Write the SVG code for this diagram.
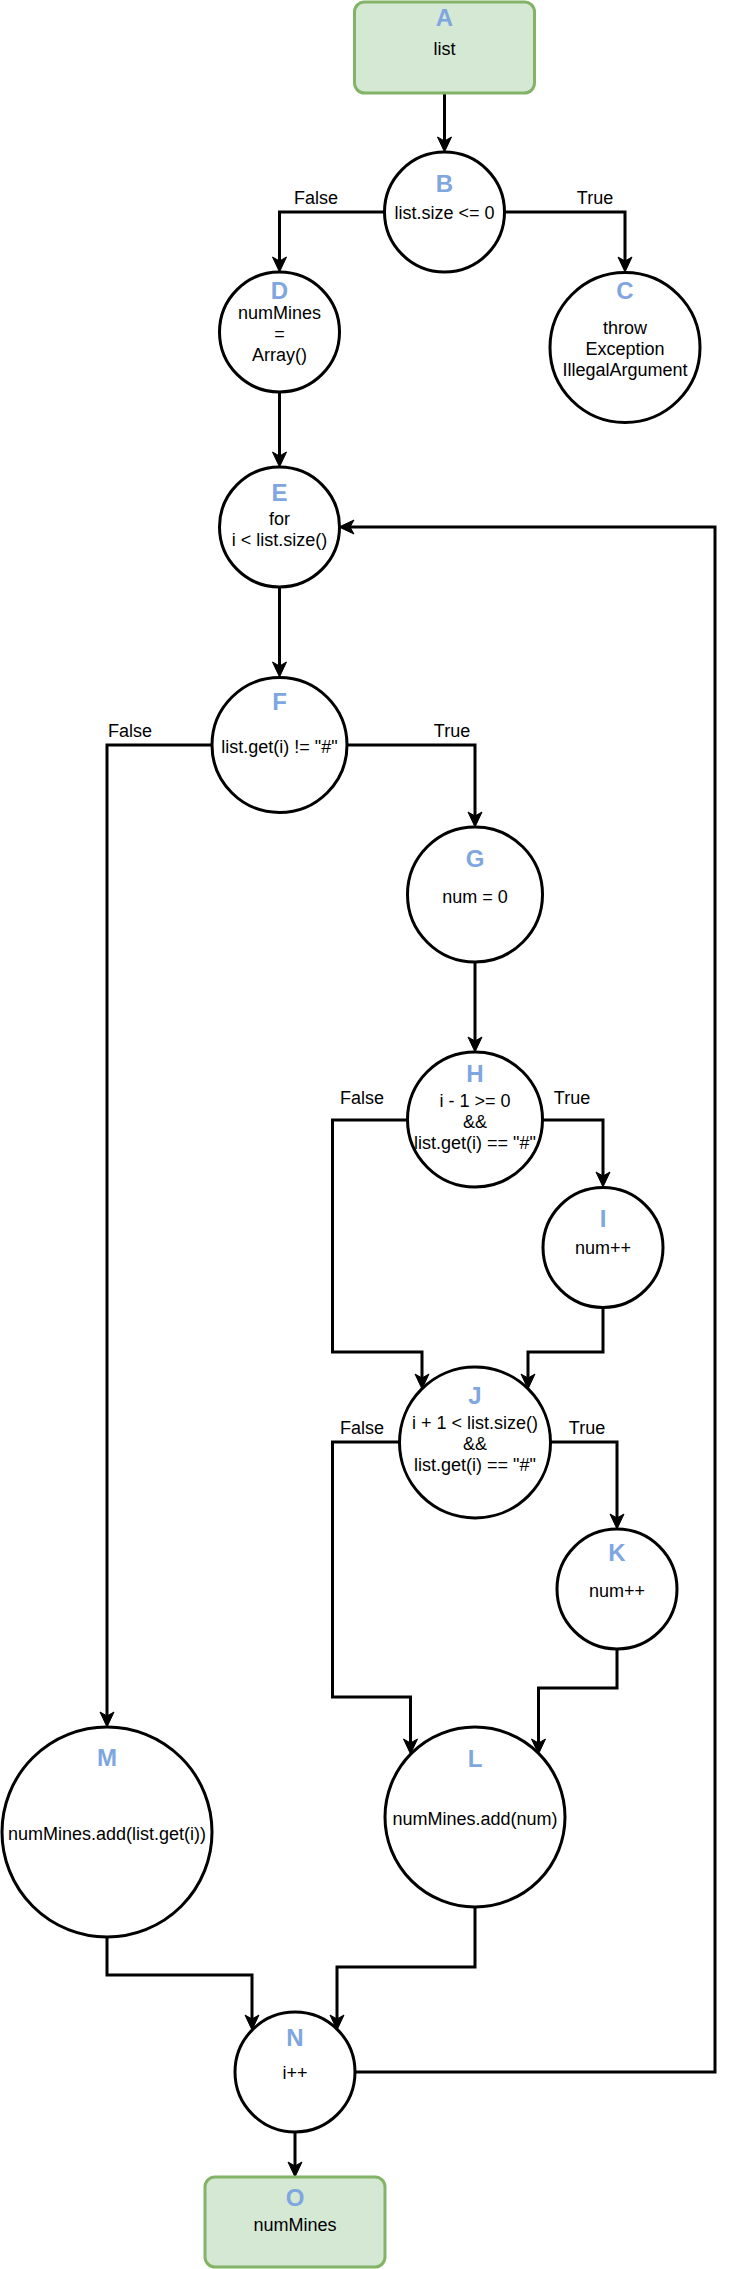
<svg xmlns="http://www.w3.org/2000/svg" width="729" height="2269" viewBox="0 0 729 2269">
<defs>
<style>
.term{fill:#d5e8d4;stroke:#82b366;stroke-width:3}
.node{fill:#ffffff;stroke:#000000;stroke-width:3}
.edge{fill:none;stroke:#000000;stroke-width:3}
.t{font-family:"Liberation Sans",Arial,sans-serif;font-size:18px;fill:#000000;text-anchor:middle}
.id{font-family:"Liberation Sans",Arial,sans-serif;font-size:24px;font-weight:bold;fill:#7ea6e0;text-anchor:middle}
</style>
<marker id="arr" markerUnits="userSpaceOnUse" markerWidth="20" markerHeight="20" refX="0" refY="0" orient="auto" style="overflow:visible">
<path d="M10,0 L-5,-7 L-1,0 L-5,7 Z" fill="#000000" stroke="#000000" stroke-width="1"/>
</marker>
</defs>
<rect width="729" height="2269" fill="#ffffff"/>
<g id="connectors">
<path class="edge" marker-end="url(#arr)" d="M444.5,93 V142"/>
<path class="edge" marker-end="url(#arr)" d="M384.5,212 H279.5 V262"/>
<path class="edge" marker-end="url(#arr)" d="M504.5,212 H625 V262"/>
<path class="edge" marker-end="url(#arr)" d="M279.5,392 V457"/>
<path class="edge" marker-end="url(#arr)" d="M279.5,587 V667"/>
<path class="edge" marker-end="url(#arr)" d="M347,745 H475 V817"/>
<path class="edge" marker-end="url(#arr)" d="M212,745 H107 V1717"/>
<path class="edge" marker-end="url(#arr)" d="M475,962 V1042"/>
<path class="edge" marker-end="url(#arr)" d="M543,1120 H603 V1177"/>
<path class="edge" marker-end="url(#arr)" d="M407,1120 H332.5 V1352 H422 V1379"/>
<path class="edge" marker-end="url(#arr)" d="M603,1308 V1352 H528 V1379"/>
<path class="edge" marker-end="url(#arr)" d="M550,1442 H617 V1519"/>
<path class="edge" marker-end="url(#arr)" d="M400,1442 H332.5 V1697 H410.5 V1744"/>
<path class="edge" marker-end="url(#arr)" d="M617,1649 V1688 H538.5 V1744"/>
<path class="edge" marker-end="url(#arr)" d="M107,1937 V1975 H252 V2020"/>
<path class="edge" marker-end="url(#arr)" d="M475,1907 V1967 H337 V2020"/>
<path class="edge" marker-end="url(#arr)" d="M355,2072 H715 V527 H349"/>
<path class="edge" marker-end="url(#arr)" d="M295,2132 V2167"/>
<text class="t" x="316" y="204">False</text>
<text class="t" x="595" y="204">True</text>
<text class="t" x="130" y="737">False</text>
<text class="t" x="452" y="737">True</text>
<text class="t" x="362" y="1104">False</text>
<text class="t" x="572" y="1104">True</text>
<text class="t" x="362" y="1434">False</text>
<text class="t" x="587" y="1434">True</text>
</g>
<g id="A">
<rect class="term" x="354.5" y="2" width="180" height="91" rx="10" ry="10"/>
<text class="id" x="444.5" y="26">A</text>
<text class="t" x="444.5" y="55">list</text>
</g>
<g id="B">
<circle class="node" cx="444.5" cy="212" r="60"/>
<text class="id" x="444.5" y="192">B</text>
<text class="t" x="444.5" y="219">list.size &lt;= 0</text>
</g>
<g id="C">
<circle class="node" cx="625" cy="347.5" r="75"/>
<text class="id" x="625" y="299">C</text>
<text class="t" x="625" y="333.5">throw</text>
<text class="t" x="625" y="354.5">Exception</text>
<text class="t" x="625" y="375.5">IllegalArgument</text>
</g>
<g id="D">
<circle class="node" cx="279.5" cy="332" r="60"/>
<text class="id" x="279.5" y="299">D</text>
<text class="t" x="279.5" y="318.5">numMines</text>
<text class="t" x="279.5" y="339.5">=</text>
<text class="t" x="279.5" y="360.5">Array()</text>
</g>
<g id="E">
<circle class="node" cx="279.5" cy="527" r="60"/>
<text class="id" x="279.5" y="501">E</text>
<text class="t" x="279.5" y="524.5">for</text>
<text class="t" x="279.5" y="545.5">i &lt; list.size()</text>
</g>
<g id="F">
<circle class="node" cx="279.5" cy="745" r="67.5"/>
<text class="id" x="279.5" y="710">F</text>
<text class="t" x="279.5" y="752.5">list.get(i) != "#"</text>
</g>
<g id="G">
<circle class="node" cx="475" cy="894.5" r="67.5"/>
<text class="id" x="475" y="867">G</text>
<text class="t" x="475" y="902.5">num = 0</text>
</g>
<g id="H">
<circle class="node" cx="475" cy="1119.5" r="67.5"/>
<text class="id" x="475" y="1082">H</text>
<text class="t" x="475" y="1106.5">i - 1 &gt;= 0</text>
<text class="t" x="475" y="1127.5">&amp;&amp;</text>
<text class="t" x="475" y="1148.5">list.get(i) == "#"</text>
</g>
<g id="I">
<circle class="node" cx="603" cy="1247.5" r="60"/>
<text class="id" x="603" y="1227">I</text>
<text class="t" x="603" y="1254">num++</text>
</g>
<g id="J">
<circle class="node" cx="475" cy="1442.5" r="75.5"/>
<text class="id" x="475" y="1404">J</text>
<text class="t" x="475" y="1428.5">i + 1 &lt; list.size()</text>
<text class="t" x="475" y="1449.5">&amp;&amp;</text>
<text class="t" x="475" y="1470.5">list.get(i) == "#"</text>
</g>
<g id="K">
<circle class="node" cx="617" cy="1589" r="60"/>
<text class="id" x="617" y="1561">K</text>
<text class="t" x="617" y="1597">num++</text>
</g>
<g id="L">
<circle class="node" cx="475" cy="1817" r="90"/>
<text class="id" x="475" y="1767">L</text>
<text class="t" x="475" y="1824.5">numMines.add(num)</text>
</g>
<g id="M">
<circle class="node" cx="107" cy="1832" r="105"/>
<text class="id" x="107" y="1766">M</text>
<text class="t" x="107" y="1839.5">numMines.add(list.get(i))</text>
</g>
<g id="N">
<circle class="node" cx="295" cy="2072" r="60"/>
<text class="id" x="295" y="2046">N</text>
<text class="t" x="295" y="2079">i++</text>
</g>
<g id="O">
<rect class="term" x="205" y="2177" width="180" height="90" rx="10" ry="10"/>
<text class="id" x="295" y="2206">O</text>
<text class="t" x="295" y="2230.5">numMines</text>
</g>
</svg>
